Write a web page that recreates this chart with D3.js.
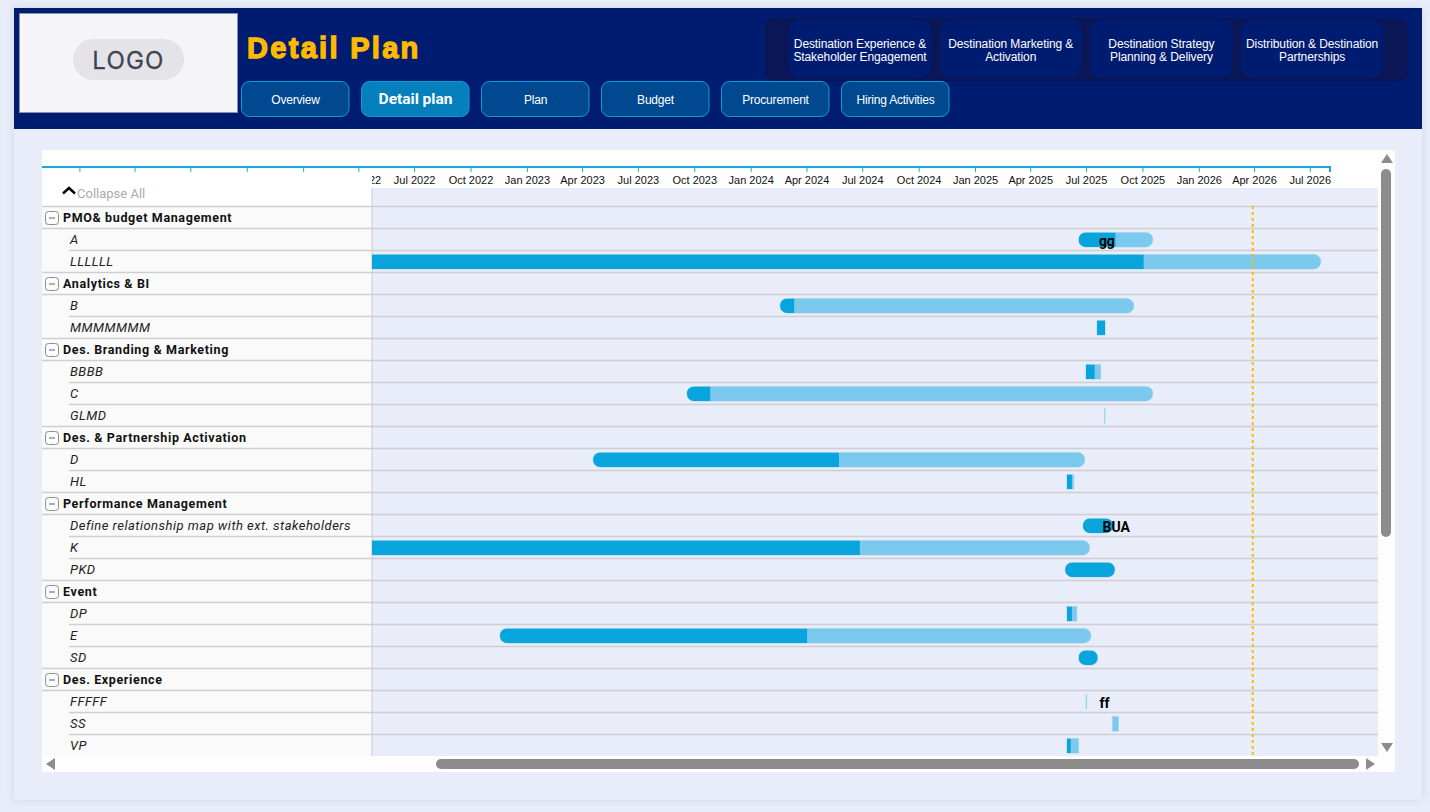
<!DOCTYPE html>
<html>
<head>
<meta charset="utf-8">
<title>Detail Plan</title>
<script src="https://cdn.jsdelivr.net/npm/d3@7"></script>
<style>
  html, body { margin: 0; padding: 0; background: #e9edf9; overflow: hidden; }
  svg { display: block; }
  text { font-family: "Liberation Sans", Arial, sans-serif; }
</style>
</head>
<body>
<svg id="page" width="1430" height="812"></svg>
<script>
const navLabels  = ['Overview', 'Detail plan', 'Plan', 'Budget', 'Procurement', 'Hiring Activities'];
const destLabels = [
  ['Destination Experience &', 'Stakeholder Engagement'],
  ['Destination Marketing &', 'Activation'],
  ['Destination Strategy', 'Planning & Delivery'],
  ['Distribution & Destination', 'Partnerships']
];

const rowLabels = [
  'PMO& budget Management', 'A', 'LLLLLL',
  'Analytics & BI', 'B', 'MMMMMMM',
  'Des. Branding & Marketing', 'BBBB', 'C', 'GLMD',
  'Des. & Partnership Activation', 'D', 'HL',
  'Performance Management', 'Define relationship map with ext. stakeholders', 'K', 'PKD',
  'Event', 'DP', 'E', 'SD',
  'Des. Experience', 'FFFFF', 'SS', 'VP'
];
const groupLabels = [
  'PMO& budget Management', 'Analytics & BI', 'Des. Branding & Marketing',
  'Des. & Partnership Activation', 'Performance Management', 'Event', 'Des. Experience'
];

// task -> start, end of the completed part, end
const taskNames  = ['A', 'LLLLLL', 'B', 'MMMMMMM', 'BBBB', 'C', 'GLMD', 'D', 'HL',
  'Define relationship map with ext. stakeholders', 'K', 'PKD', 'DP', 'E', 'SD', 'FFFFF', 'SS', 'VP'];
const taskStarts = ['2025-06-19', '2021-01-01', '2024-02-18', '2025-07-19', '2025-07-01', '2023-09-19', '2025-07-31', '2023-04-19', '2025-05-31',
  '2025-06-26', '2021-01-01', '2025-05-28', '2025-05-31', '2022-11-18', '2025-06-19', '2025-07-01', '2025-08-13', '2025-05-31'];
const taskDone   = ['2025-08-18', '2025-10-03', '2024-03-12', '2025-08-01', '2025-07-15', '2023-10-27', '2025-07-31', '2024-05-24', '2025-06-08',
  '2025-08-14', '2024-06-27', '2025-08-17', '2025-06-08', '2024-04-02', '2025-07-20', '2025-07-01', '2025-08-13', '2025-06-06'];
const taskEnds   = ['2025-10-18', '2026-07-19', '2025-09-17', '2025-08-01', '2025-07-25', '2025-10-18', '2025-08-01', '2025-06-29', '2025-06-11',
  '2025-08-14', '2025-07-07', '2025-08-17', '2025-06-16', '2025-07-09', '2025-07-20', '2025-07-02', '2025-08-23', '2025-06-19'];

const noteTasks = ['A', 'Define relationship map with ext. stakeholders', 'FFFFF'];
const noteTexts = ['gg', 'BUA', 'ff'];
const noteDates = ['2025-07-22', '2025-07-28', '2025-07-23'];

const todayDate = '2026-03-30';
const axisStart = '2020-11-01';
const axisEnd   = '2026-08-03';

const parse = d3.utcParse('%Y-%m-%d');
const dark = '#08a5dc', light = '#7bc9ec', navy = '#001c71', rowLine = '#cfcfd3', grey = '#8c8c8c';
const svg = d3.select('#page');

const defs = svg.append('defs');
const shadow = defs.append('filter').attr('id', 'cardShadow')
  .attr('x', '-2%').attr('y', '-2%').attr('width', '104%').attr('height', '104%');
shadow.append('feDropShadow').attr('dx', 0).attr('dy', 0).attr('stdDeviation', 4)
  .attr('flood-color', '#000').attr('flood-opacity', 0.1);
defs.append('clipPath').attr('id', 'timelineClip').append('rect')
  .attr('x', 372).attr('y', 188).attr('width', 1006).attr('height', 568);

// card and header
svg.append('rect').attr('x', 14).attr('y', 8).attr('width', 1408).attr('height', 792)
  .attr('fill', '#e9edf9').attr('filter', 'url(#cardShadow)');
svg.append('rect').attr('x', 14).attr('y', 8).attr('width', 1408).attr('height', 121).attr('fill', navy);

svg.append('rect').attr('x', 19.5).attr('y', 13.5).attr('width', 218).attr('height', 99)
  .attr('fill', '#f5f5f8').attr('stroke', '#8a90b0');
svg.append('rect').attr('x', 73).attr('y', 39).attr('width', 111).attr('height', 41).attr('rx', 20.5).attr('fill', '#e4e4e8');
svg.append('text').attr('x', 128.5).attr('y', 68.5).attr('text-anchor', 'middle')
  .style('font-family', 'Inter').style('font-size', '24px').style('letter-spacing', '1.2px')
  .attr('fill', '#3d4552').attr('stroke', '#3d4552').attr('stroke-width', 0.3).text('LOGO');

svg.append('text').attr('x', 247).attr('y', 58)
  .style('font-family', '"Liberation Sans"').style('font-size', '29px').style('font-weight', 700)
  .style('letter-spacing', '2.3px')
  .attr('fill', '#ffb900').attr('stroke', '#ffb900').attr('stroke-width', 1.3).text('Detail Plan');

const nav = svg.selectAll('.nav').data(navLabels).enter().append('g').attr('class', 'nav')
  .attr('transform', (d, i) => `translate(${241.5 + i * 120},81.5)`);
nav.append('rect').attr('width', 107.5).attr('height', 35).attr('rx', 8)
  .attr('fill', d => d === 'Detail plan' ? '#0580bd' : '#004890').attr('stroke', '#0a9fd8');
nav.append('text').attr('x', 54).attr('y', d => d === 'Detail plan' ? 22.5 : 22).attr('text-anchor', 'middle')
  .attr('fill', '#fff')
  .style('font-family', d => d === 'Detail plan' ? 'Roboto' : null)
  .style('font-size', d => d === 'Detail plan' ? '15.5px' : '12px')
  .style('font-weight', d => d === 'Detail plan' ? 700 : 400)
  .style('letter-spacing', d => d === 'Detail plan' ? null : '-0.2px')
  .text(d => d);

svg.append('rect').attr('x', 765).attr('y', 18).attr('width', 643).attr('height', 63).attr('rx', 9).attr('fill', '#0a1656');
const dest = svg.selectAll('.dest').data(destLabels).enter().append('g').attr('class', 'dest')
  .attr('transform', (d, i) => `translate(${789 + i * 150.7},20)`);
dest.append('rect').attr('width', 142).attr('height', 58).attr('rx', 10).attr('fill', navy);
dest.selectAll('text').data(d => d).enter().append('text')
  .attr('x', 71).attr('y', (d, i) => 28 + i * 13).attr('text-anchor', 'middle')
  .attr('fill', '#fff').style('font-size', '12px').style('letter-spacing', '-0.1px').text(d => d);

// chart frame
svg.append('rect').attr('x', 42).attr('y', 150).attr('width', 1353).attr('height', 622).attr('fill', '#fdfdfd');
svg.append('rect').attr('x', 42).attr('y', 150).attr('width', 1336).attr('height', 38).attr('fill', '#fff');
svg.append('rect').attr('x', 372).attr('y', 188).attr('width', 1006).attr('height', 568).attr('fill', '#e9edf9');

// time axis
const x = d3.scaleUtc().domain([parse(axisStart), parse(axisEnd)]).range([42, 1330]);
const y = d3.scaleBand().domain(rowLabels).range([206.5, 756.5]);

const axis = svg.append('g').attr('transform', 'translate(0,167)')
  .call(d3.axisBottom(x).ticks(d3.utcMonth.filter(d => d.getUTCMonth() % 3 === 0))
    .tickFormat(d3.utcFormat('%b %Y')).tickSize(5).tickSizeOuter(5));
// only the right end of the axis has an end tick
axis.select('.domain').attr('d', `M${x.range()[0]},0H${x.range()[1]}V5`)
  .attr('stroke', '#1ba8dc').attr('stroke-width', 2);
axis.selectAll('.tick line').attr('stroke', '#1ba8dc');
axis.selectAll('.tick text').attr('y', 9).attr('fill', '#111')
  .style('font-family', '"Liberation Sans"').style('font-size', '11px');

// left panel, covers the axis labels that scrolled under it
svg.append('rect').attr('x', 42).attr('y', 174).attr('width', 330).attr('height', 32).attr('fill', '#fff');
svg.append('rect').attr('x', 42).attr('y', 206).attr('width', 330).attr('height', 550).attr('fill', '#fafafa');
svg.append('path').attr('d', d3.line()([[63, 193.5], [69, 188], [75, 193.5]]))
  .attr('fill', 'none').attr('stroke', '#000').attr('stroke-width', 2.4);
svg.append('text').attr('x', 77).attr('y', 198).attr('fill', '#ababab')
  .style('font-family', 'Roboto').style('font-size', '13px').text('Collapse All');

// rows
const isGroup = d => groupLabels.includes(d);
const rows = svg.selectAll('.row').data(rowLabels).enter().append('g').attr('class', 'row');
rows.append('line')
  .attr('x1', (d, i) => isGroup(d) || isGroup(rowLabels[i - 1]) ? 42 : 69).attr('x2', 1378)
  .attr('y1', d => y(d)).attr('y2', d => y(d)).attr('stroke', rowLine).attr('stroke-width', 1.6);
rows.append('text')
  .attr('x', d => isGroup(d) ? 63 : 70).attr('y', d => y(d) + 15)
  .attr('fill', d => isGroup(d) ? '#111' : '#222')
  .style('font-family', 'Roboto')
  .style('font-size', d => isGroup(d) ? '12.5px' : '13px')
  .style('font-weight', d => isGroup(d) ? 700 : 400)
  .style('font-style', d => isGroup(d) ? 'normal' : 'italic')
  .style('letter-spacing', d => isGroup(d) ? '0.63px' : '0.48px')
  .text(d => d);

const toggles = rows.filter(isGroup);
toggles.append('rect').attr('x', 45.5).attr('y', d => y(d) + 5).attr('width', 13).attr('height', 13).attr('rx', 3)
  .attr('fill', '#fafafa').attr('stroke', '#8e8e8e');
toggles.append('line').attr('x1', 49).attr('x2', 55).attr('y1', d => y(d) + 11.5).attr('y2', d => y(d) + 11.5)
  .attr('stroke', '#666');

svg.append('line').attr('x1', 372).attr('x2', 372).attr('y1', 188).attr('y2', 756).attr('stroke', '#cccccf');

// bars
const barH = 14.5;
const timeline = svg.append('g').attr('clip-path', 'url(#timelineClip)');
const barRadius = w => w < 15 ? 0 : barH / 2;
const bars = timeline.selectAll('.bar').data(taskNames).enter().append('g').attr('class', 'bar')
  .attr('transform', d => `translate(0,${y(d) + 4})`);
const barStart = (d, i) => x(parse(taskStarts[i]));
const barWidth = (d, i) => x(parse(taskEnds[i])) - x(parse(taskStarts[i]));

bars.each(function (d, i) {
  defs.append('clipPath').attr('id', 'barClip' + i).append('rect')
    .attr('x', barStart(d, i)).attr('width', barWidth(d, i)).attr('height', barH)
    .attr('rx', barRadius(barWidth(d, i)));
});
bars.append('rect').attr('x', barStart).attr('width', barWidth).attr('height', barH)
  .attr('rx', (d, i) => barRadius(barWidth(d, i)))
  .attr('fill', 'none').attr('stroke', light).attr('stroke-opacity', 0.5);
const fills = bars.append('g').attr('clip-path', (d, i) => `url(#barClip${i})`);
fills.append('rect').attr('x', barStart).attr('width', barWidth).attr('height', barH).attr('fill', light);
fills.append('rect').attr('x', barStart)
  .attr('width', (d, i) => x(parse(taskDone[i])) - x(parse(taskStarts[i])))
  .attr('height', barH).attr('fill', dark);

// today marker
timeline.append('line').attr('x1', x(parse(todayDate))).attr('x2', x(parse(todayDate)))
  .attr('y1', 206).attr('y2', 756)
  .attr('stroke', '#ffb900').attr('stroke-width', 2).attr('stroke-dasharray', '3 3');

timeline.selectAll('.note').data(noteTexts).enter().append('text').attr('class', 'note')
  .attr('x', (d, i) => x(parse(noteDates[i])))
  .attr('y', (d, i) => y(noteTasks[i]) + 17)
  .attr('fill', '#000').style('font-family', 'Roboto').style('font-size', '14px').style('font-weight', 700)
  .text(d => d);

// scrollbars
svg.append('rect').attr('x', 1381).attr('y', 169).attr('width', 10).attr('height', 368).attr('rx', 5).attr('fill', grey);
svg.append('rect').attr('x', 436).attr('y', 759).attr('width', 923).attr('height', 10).attr('rx', 5).attr('fill', grey);
const arrows = [
  [[1381, 163], [1393, 163], [1387, 154]],
  [[1381, 743], [1393, 743], [1387, 752]],
  [[55, 758], [55, 770], [46, 764]],
  [[1366, 758], [1366, 770], [1375, 764]]
];
svg.selectAll('.arrow').data(arrows).enter().append('path').attr('class', 'arrow')
  .attr('d', d => d3.line()(d) + 'Z').attr('fill', grey);
</script>
</body>
</html>
